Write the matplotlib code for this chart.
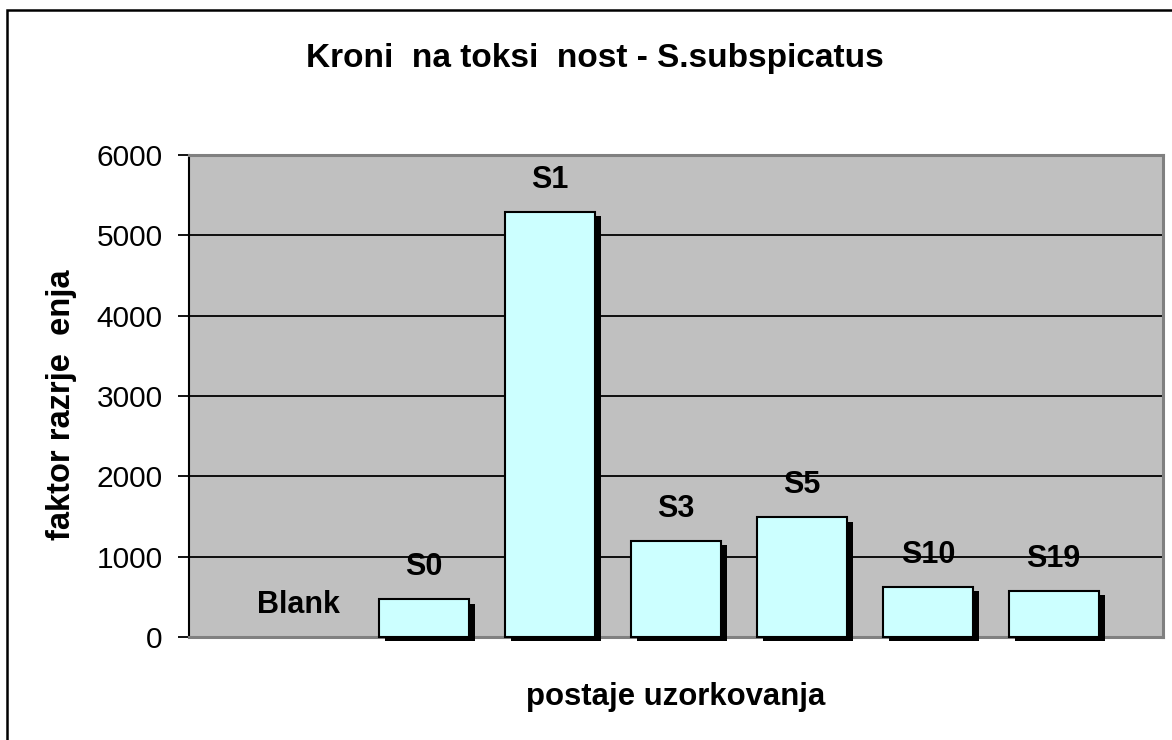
import matplotlib
matplotlib.use("Agg")
import matplotlib.pyplot as plt
import matplotlib.patheffects as pe
from matplotlib.patches import Rectangle

categories = ["Blank", "S0", "S1", "S3", "S5", "S10", "S19"]
values = [0, 470, 5290, 1200, 1490, 622, 572]
yticks = [0, 1000, 2000, 3000, 4000, 5000, 6000]

title = "Kroni  na toksi  nost - S.subspicatus"
ylabel = "faktor razrje  enja"
xlabel = "postaje uzorkovanja"

plt.rcParams['font.family'] = ['Liberation Sans', 'DejaVu Sans']

W, H = 1172, 740
fig = plt.figure(figsize=(W / 100, H / 100), dpi=100)
fig.patch.set_facecolor('white')

# figure border
fig.add_artist(Rectangle((7 / W, 1 - 745 / H), 1170 / W, 735 / H, transform=fig.transFigure,
                         fill=False, edgecolor='black', linewidth=1.8))

left, right, top, bottom = 189, 1163, 155, 637
ax = fig.add_axes([left / W, 1 - bottom / H, (right - left) / W, (bottom - top) / H])
ax.set_facecolor('#C0C0C0')

x = list(range(len(categories)))
bars = ax.bar(x, values, width=0.717, color='#CCFFFF', edgecolor='black', linewidth=1.5,
              zorder=3, clip_on=False)
for b in bars:
    if b.get_height() > 0:
        b.set_path_effects([pe.SimplePatchShadow(offset=(4.3, -3.2), shadow_rgbFace='black', alpha=1),
                            pe.Normal()])
    else:
        b.set_visible(False)

for xi, v, c in zip(x, values, categories):
    ax.annotate(c, (xi, v), xytext=(0, 23), textcoords='offset points', ha='center', va='center',
                fontsize=22, fontweight='bold', zorder=5)

ax.set_xlim(-0.868, len(categories) - 1 + 0.868)
ax.set_ylim(0, 6000)
ax.set_yticks(yticks)
ax.set_yticklabels([str(t) for t in yticks], fontsize=21.5)
ax.set_xticks([])
ax.yaxis.grid(True, color='black', linewidth=1.3, zorder=1)
ax.set_axisbelow(True)
ax.tick_params(axis='y', length=8, width=1.3, pad=11)

for s in ['top', 'right', 'bottom']:
    ax.spines[s].set_color('#808080')
    ax.spines[s].set_linewidth(2.2)
ax.spines['left'].set_color('black')
ax.spines['left'].set_linewidth(1.5)

fig.text(595 / W, 1 - 67 / H, title, ha='center', va='baseline', fontsize=24, fontweight='bold')
fig.text(62 / W, 1 - 405 / H, ylabel, ha='center', va='center', rotation=90, fontsize=23.5, fontweight='bold')
fig.text(676 / W, 1 - 705 / H, xlabel, ha='center', va='baseline', fontsize=22.4, fontweight='bold')

fig.savefig("out.png", dpi=100)
